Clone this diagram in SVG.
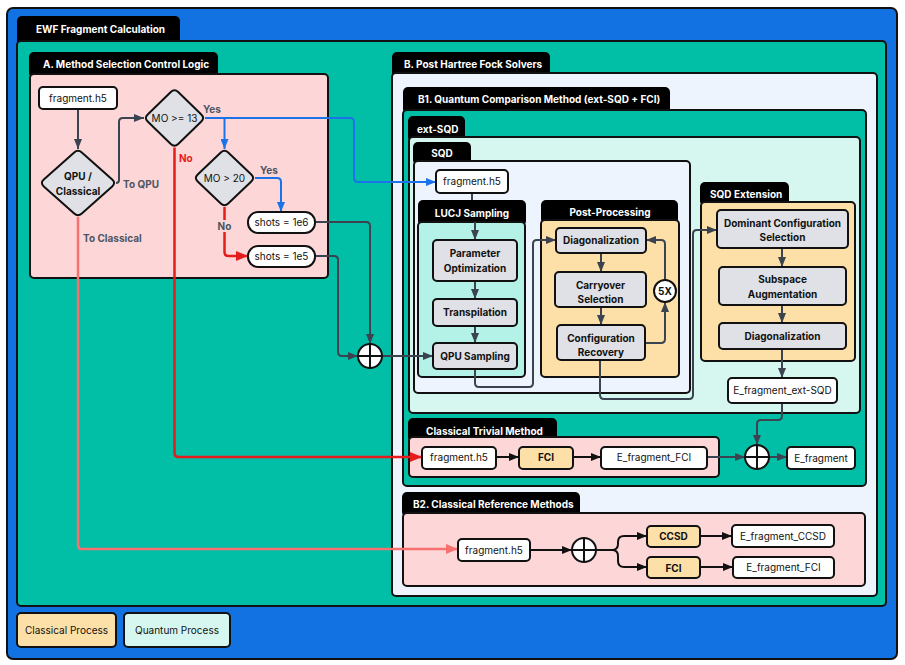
<svg xmlns="http://www.w3.org/2000/svg" width="905" height="665" viewBox="0 0 905 665">
<style>
text{font-family:Inter,"Liberation Sans",sans-serif;font-size:10px;fill:#111}
.tab{fill:#000}
.tt{fill:#fff;font-weight:700}
.c{stroke:#111;stroke-width:2}
.n{stroke:#111;stroke-width:2;fill:#fff}
.g{stroke:#111;stroke-width:2;fill:#dfe1e6}
.o{stroke:#111;stroke-width:2;fill:#fddfa8}
.b{font-weight:700}
.m{text-anchor:middle}
.lab{font-weight:700;fill:#4b5563}
.w{fill:none;stroke-linejoin:round}
.gy{stroke:#3b4350;stroke-width:2}
.bk{stroke:#111;stroke-width:2}
.bl{stroke:#1a73e8;stroke-width:2}
.rd{stroke:#e51c1c;stroke-width:2.5}
.sm{stroke:#f87171;stroke-width:2.5}
</style>
<defs>
<marker id="ag" markerUnits="userSpaceOnUse" markerWidth="10" markerHeight="8" refX="10" refY="4" orient="auto"><path d="M0,0L10,4L0,8z" fill="#3b4350"/></marker>
<marker id="ak" markerUnits="userSpaceOnUse" markerWidth="10" markerHeight="8" refX="10" refY="4" orient="auto"><path d="M0,0L10,4L0,8z" fill="#111"/></marker>
<marker id="ab" markerUnits="userSpaceOnUse" markerWidth="10" markerHeight="8" refX="10" refY="4" orient="auto"><path d="M0,0L10,4L0,8z" fill="#1a73e8"/></marker>
<marker id="ar" markerUnits="userSpaceOnUse" markerWidth="12" markerHeight="10" refX="12" refY="5" orient="auto"><path d="M0,0L12,5L0,10z" fill="#e51c1c"/></marker>
<marker id="as" markerUnits="userSpaceOnUse" markerWidth="12" markerHeight="10" refX="12" refY="5" orient="auto"><path d="M0,0L12,5L0,10z" fill="#f87171"/></marker>
</defs>

<!-- containers -->
<g id="ewf">
<rect x="7" y="8" width="890" height="651" rx="6" fill="#1272e2" class="c"/>
<rect x="17" y="16" width="163" height="30" rx="5" class="tab"/>
<text x="36" y="33" class="tt">EWF Fragment Calculation</text>
<rect x="17" y="41" width="869" height="565" rx="4" fill="#00bfa6" class="c"/>
</g>
<g id="sectionA">
<rect x="29" y="52" width="189" height="26" rx="5" class="tab"/>
<text x="43" y="68" class="tt">A. Method Selection Control Logic</text>
<rect x="30" y="74" width="298" height="204" rx="4" fill="#fdd7d7" class="c"/>
</g>
<g id="sectionB">
<rect x="392" y="52" width="158" height="26" rx="5" class="tab"/>
<text x="404" y="68" class="tt">B. Post Hartree Fock Solvers</text>
<rect x="392" y="73" width="485" height="523" rx="4" fill="#eef4fe" class="c"/>
</g>
<g id="sectionB1">
<rect x="403" y="87" width="267" height="27" rx="5" class="tab"/>
<text x="418" y="103" class="tt">B1. Quantum Comparison Method (ext-SQD + FCI)</text>
<rect x="403" y="110" width="463" height="376" rx="4" fill="#00bfa6" class="c"/>
</g>
<g id="extSQD">
<rect x="408" y="116" width="57" height="26" rx="5" class="tab"/>
<text x="417" y="133" class="tt">ext-SQD</text>
<rect x="409" y="137" width="451" height="276" rx="4" fill="#d6f7f0" class="c"/>
</g>
<g id="SQD">
<rect x="413" y="142" width="58" height="23" rx="5" class="tab"/>
<text x="442" y="157" class="tt m">SQD</text>
<rect x="414" y="161" width="276" height="232" rx="4" fill="#eef4fe" class="c"/>
</g>
<g id="LUCJ">
<rect x="418" y="200" width="108" height="26" rx="5" class="tab"/>
<text x="472" y="217" class="tt m">LUCJ Sampling</text>
<rect x="418" y="222" width="107" height="155" rx="4" fill="#b4f1e7" class="c"/>
</g>
<g id="postProcessing">
<rect x="541" y="200" width="137" height="24" rx="5" class="tab"/>
<text x="610" y="216" class="tt m">Post-Processing</text>
<rect x="541" y="220" width="138" height="157" rx="4" fill="#fddfa8" class="c"/>
</g>
<g id="sqdExtension">
<rect x="700" y="182" width="89" height="24" rx="5" class="tab"/>
<text x="710" y="198" class="tt">SQD Extension</text>
<rect x="701" y="202" width="154" height="159" rx="4" fill="#fddfa8" class="c"/>
</g>
<g id="classicalTrivial">
<rect x="408" y="418" width="149" height="24" rx="5" class="tab"/>
<text x="426" y="435" class="tt">Classical Trivial Method</text>
<rect x="409" y="437" width="310" height="40" rx="4" fill="#fdd7d7" class="c"/>
</g>
<g id="sectionB2">
<rect x="402" y="492" width="178" height="25" rx="5" class="tab"/>
<text x="413" y="508" class="tt">B2. Classical Reference Methods</text>
<rect x="403" y="513" width="462" height="73" rx="4" fill="#fdd7d7" class="c"/>
</g>

<!-- connectors -->
<g id="connectors" class="w">
<path d="M78,109V149" class="w gy" marker-end="url(#ag)"/>
<path d="M116,183H116Q119,183 119,180V122Q119,118 123,118H144" class="w gy" marker-end="url(#ag)"/>
<path d="M315,222H366Q370,222 370,226V344" class="w gy" marker-end="url(#ag)"/>
<path d="M315,256H334Q338,256 338,260V352Q338,356 342,356H358" class="w gy" marker-end="url(#ag)"/>
<path d="M382,356H433" class="w gy" marker-end="url(#ag)"/>
<path d="M472,193V200" class="w gy"/>
<path d="M475,222V240" class="w gy" marker-end="url(#ag)"/>
<path d="M475,281V299" class="w gy" marker-end="url(#ag)"/>
<path d="M475,326V343" class="w gy" marker-end="url(#ag)"/>
<path d="M475,369V383Q475,387 479,387H529Q533,387 533,383V244Q533,240 537,240H556" class="w gy" marker-end="url(#ag)"/>
<path d="M601,253V272" class="w gy" marker-end="url(#ag)"/>
<path d="M601,307V325" class="w gy" marker-end="url(#ag)"/>
<path d="M645,343H661Q665,343 665,339V302" class="w gy" marker-end="url(#ag)"/>
<path d="M665,280V244Q665,240 661,240H646" class="w gy" marker-end="url(#ag)"/>
<path d="M600,360V395Q600,399 604,399H689Q693,399 693,395V234Q693,230 697,230H717" class="w gy" marker-end="url(#ag)"/>
<path d="M782,248V267" class="w gy" marker-end="url(#ag)"/>
<path d="M782,305V323" class="w gy" marker-end="url(#ag)"/>
<path d="M782,349V378" class="w gy" marker-end="url(#ag)"/>
<path d="M782,403V416Q782,420 778,420H761Q757,420 757,424V445" class="w gy" marker-end="url(#ag)"/>
<path d="M496,457H519" class="w bk" marker-end="url(#ak)"/>
<path d="M573,457H601" class="w bk" marker-end="url(#ak)"/>
<path d="M707,457H745" class="w gy" marker-end="url(#ag)"/>
<path d="M769,457H787" class="w gy" marker-end="url(#ag)"/>
<path d="M530,550H572" class="w bk" marker-end="url(#ak)"/>
<path d="M596,550H612Q618,550 618,544V542Q618,536 624,536H647" class="w bk" marker-end="url(#ak)"/>
<path d="M612,550Q618,550 618,556V561Q618,567 624,567H647" class="w bk" marker-end="url(#ak)"/>
<path d="M700,536H732" class="w bk" marker-end="url(#ak)"/>
<path d="M700,567H733" class="w bk" marker-end="url(#ak)"/>
<path d="M205,118H350Q354,118 354,122V178Q354,182 358,182H436" class="w bl" marker-end="url(#ab)"/>
<path d="M224.5,118V149" class="w bl" marker-end="url(#ab)"/>
<path d="M255,178H277Q281,178 281,182V212" class="w bl" marker-end="url(#ab)"/>
<path d="M174.5,147.5V453Q174.5,457 178.5,457H422" class="w rd" marker-end="url(#ar)"/>
<path d="M224.5,207V252Q224.5,256 228.5,256H248" class="w rd" stroke-width="3" marker-end="url(#ar)"/>
<path d="M78,217V545Q78,549 82,549H458" class="w sm" marker-end="url(#as)"/>
</g>

<!-- edge labels -->
<g id="labels">
<text x="203" y="113" class="lab">Yes</text>
<text x="179" y="162" class="b" style="fill:#e51c1c">No</text>
<text x="123" y="188" class="lab">To QPU</text>
<text x="260" y="174" class="lab">Yes</text>
<rect x="216" y="220" width="17" height="12" fill="#fdd7d7"/>
<text x="224.5" y="230" class="lab m">No</text>
<text x="83" y="242" class="lab">To Classical</text>
</g>

<!-- nodes -->
<g id="fragA"><rect x="39" y="87" width="78" height="22" rx="4" class="n"/><text x="78" y="102" class="m">fragment.h5</text></g>
<g id="qpuClassical"><path d="M74.2,152.4Q78,149 81.8,152.4L112.2,179.6Q116,183 112.2,186.4L81.8,213.6Q78,217 74.2,213.6L43.8,186.4Q40,183 43.8,179.6Z" class="g"/><text x="78" y="180" class="b m">QPU /</text><text x="78" y="195" class="b m">Classical</text></g>
<g id="mo13"><path d="M170.8,92Q174.5,88.5 178.2,92L201.3,114.5Q205,118 201.3,121.5L178.2,144Q174.5,147.5 170.8,144L147.7,121.5Q144,118 147.7,114.5Z" class="g"/><text x="174.5" y="121.5" class="m">MO &gt;= 13</text></g>
<g id="mo20"><path d="M220.8,152.5Q224.5,149 228.2,152.5L251.3,174.5Q255,178 251.3,181.5L228.2,203.5Q224.5,207 220.8,203.5L197.7,181.5Q194,178 197.7,174.5Z" class="g"/><text x="224.5" y="181.5" class="m">MO &gt; 20</text></g>
<g id="shots1e6"><rect x="248" y="212" width="67" height="21" rx="10" class="n"/><text x="281.5" y="226" class="m">shots = 1e6</text></g>
<g id="shots1e5"><rect x="248" y="246" width="67" height="21" rx="10" class="n"/><text x="281.5" y="260" class="m">shots = 1e5</text></g>
<g id="merge1"><circle cx="370" cy="356" r="12" class="n"/><path d="M358,356H382M370,344V368" class="bk"/></g>

<g id="fragSQD"><rect x="436" y="170" width="72" height="23" rx="4" class="n"/><text x="472" y="185" class="m">fragment.h5</text></g>
<g id="paramOpt"><rect x="433" y="240" width="84" height="41" rx="4" class="g"/><text x="475" y="257" class="b m">Parameter</text><text x="475" y="272" class="b m">Optimization</text></g>
<g id="transpilation"><rect x="433" y="299" width="84" height="27" rx="4" class="g"/><text x="475" y="316" class="b m">Transpilation</text></g>
<g id="qpuSampling"><rect x="433" y="343" width="84" height="26" rx="4" class="g"/><text x="475" y="360" class="b m">QPU Sampling</text></g>
<g id="diag1"><rect x="556" y="228" width="90" height="25" rx="4" class="g"/><text x="601" y="244" class="b m">Diagonalization</text></g>
<g id="carryover"><rect x="555" y="272" width="91" height="35" rx="4" class="g"/><text x="600.5" y="289" class="b m">Carryover</text><text x="600.5" y="303" class="b m">Selection</text></g>
<g id="configRecovery"><rect x="557" y="325" width="88" height="35" rx="4" class="g"/><text x="601" y="342" class="b m">Configuration</text><text x="601" y="356" class="b m">Recovery</text></g>
<g id="loop5x"><circle cx="665" cy="291" r="11" class="n"/><text x="665" y="295" class="b m">5X</text></g>
<g id="dominant"><rect x="717" y="210" width="131" height="38" rx="4" class="g"/><text x="782.5" y="227" class="b m">Dominant Configuration</text><text x="782.5" y="241" class="b m">Selection</text></g>
<g id="subspace"><rect x="719" y="267" width="127" height="38" rx="4" class="g"/><text x="782.5" y="283" class="b m">Subspace</text><text x="782.5" y="298" class="b m">Augmentation</text></g>
<g id="diag2"><rect x="719" y="323" width="127" height="26" rx="4" class="g"/><text x="782.5" y="340" class="b m">Diagonalization</text></g>
<g id="eExtSQD"><rect x="728" y="378" width="109" height="25" rx="4" class="n"/><text x="782.5" y="394" class="m">E_fragment_ext-SQD</text></g>

<g id="fragCT"><rect x="422" y="447" width="74" height="22" rx="4" class="n"/><text x="459" y="461" class="m">fragment.h5</text></g>
<g id="fciCT"><rect x="519" y="447" width="54" height="22" rx="4" class="o"/><text x="546" y="461" class="b m">FCI</text></g>
<g id="eFciCT"><rect x="601" y="447" width="106" height="22" rx="4" class="n"/><text x="654" y="461" class="m">E_fragment_FCI</text></g>
<g id="merge2"><circle cx="757" cy="457" r="12" class="n"/><path d="M745,457H769M757,445V469" class="bk"/></g>
<g id="eFragment"><rect x="787" y="447" width="68" height="22" rx="4" class="n"/><text x="821" y="462" class="m">E_fragment</text></g>

<g id="fragB2"><rect x="458" y="539" width="72" height="22" rx="4" class="n"/><text x="494" y="554" class="m">fragment.h5</text></g>
<g id="merge3"><circle cx="584" cy="550" r="12" class="n"/><path d="M572,550H596M584,538V562" class="bk"/></g>
<g id="ccsd"><rect x="647" y="526" width="53" height="21" rx="4" class="o"/><text x="673.5" y="540" class="b m">CCSD</text></g>
<g id="fciB2"><rect x="647" y="557" width="53" height="21" rx="4" class="o"/><text x="673.5" y="572" class="b m">FCI</text></g>
<g id="eCCSD"><rect x="732" y="525" width="102" height="22" rx="4" class="n"/><text x="783" y="540" class="m">E_fragment_CCSD</text></g>
<g id="eFciB2"><rect x="733" y="557" width="101" height="21" rx="4" class="n"/><text x="783.5" y="571" class="m">E_fragment_FCI</text></g>

<g id="legendClassical"><rect x="17" y="613" width="99" height="34" rx="4" class="o"/><text x="66.5" y="634" class="m">Classical Process</text></g>
<g id="legendQuantum"><rect x="124" y="613" width="106" height="34" rx="4" fill="#d6f7f0" class="c"/><text x="177" y="634" class="m">Quantum Process</text></g>
</svg>
